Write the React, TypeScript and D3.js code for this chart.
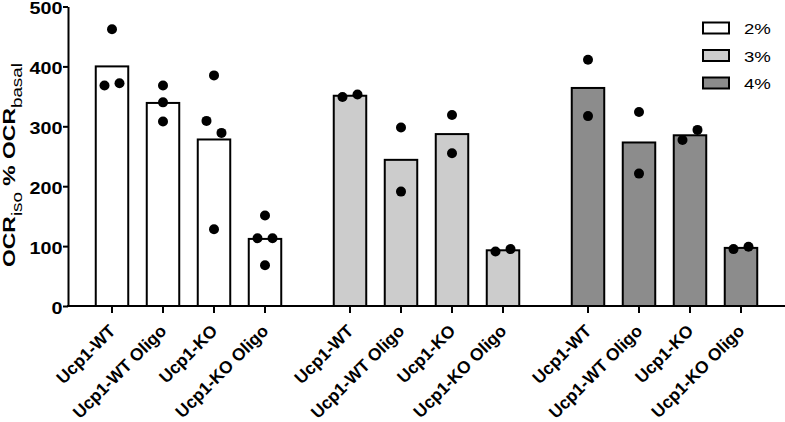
//this component renders the OCR iso / basal bar chart with replicate dots
import * as d3 from 'd3';
import React, { useEffect, useRef } from 'react';

//groups (O2 %) and the conditions inside each group
const groupLabels = ['2%', '3%', '4%'];
const conditions = ['Ucp1-WT', 'Ucp1-WT Oligo', 'Ucp1-KO', 'Ucp1-KO Oligo'];

//bar heights (means) per group
const means2 = [400, 339, 278, 112];
const means3 = [351, 244, 287, 93];
const means4 = [364, 273, 285, 97];

//replicate values per bar
const points2 = [[462, 368, 372], [368, 340, 308], [385, 309, 289, 128], [151, 113, 113, 68]];
const points3 = [[349, 353], [298, 191], [319, 255], [91, 95]];
const points4 = [[411, 317], [324, 221], [277, 294], [95, 99]];

const yTicks = [0, 100, 200, 300, 400, 500];

const fills = ['#ffffff', '#cccccc', '#8c8c8c'];
const font = "'Liberation Sans', Arial, Helvetica, sans-serif";

const App = () => {
  const svgRef = useRef<SVGSVGElement>(null);

  useEffect(() => {
    const width = 785;
    const height = 422;
    const stretch = 1.2;

    const allMeans = [means2, means3, means4];
    const allPoints = [points2, points3, points4];

    //flat table, one row per bar
    const rows = groupLabels.flatMap((group, gi) =>
      conditions.map((condition, ci) => ({
        group,
        gi,
        condition,
        mean: allMeans[gi][ci],
        points: allPoints[gi][ci]
      }))
    );

    const svg = d3.select(svgRef.current);
    svg.selectAll('*').remove();
    svg
      .attr('width', width)
      .attr('height', height)
      .attr('viewBox', `0 0 ${width} ${height}`)
      .style('font-family', font);

    //scales
    const y = d3.scaleLinear().domain([0, 500]).range([306, 6.5]);
    const x0 = d3
      .scaleBand()
      .domain(groupLabels)
      .range([86.5, 766.5])
      .paddingInner(34 / 238)
      .paddingOuter(0);
    const x1 = d3
      .scaleBand()
      .domain(conditions)
      .range([0, x0.bandwidth()])
      .paddingInner(0.363)
      .paddingOuter(0.1815);
    const cx = (d) => x0(d.group) + x1(d.condition) + x1.bandwidth() / 2;

    //bars
    svg
      .append('g')
      .selectAll('rect')
      .data(rows)
      .enter()
      .append('rect')
      .attr('x', (d) => x0(d.group) + x1(d.condition))
      .attr('y', (d) => y(d.mean))
      .attr('width', x1.bandwidth())
      .attr('height', (d) => y(0) - y(d.mean))
      .attr('fill', (d) => fills[d.gi])
      .attr('stroke', '#000')
      .attr('stroke-width', 2);

    //dots, spread sideways when they would overlap
    const spread = 15;
    const dots = rows.flatMap((d) =>
      d.points.map((v, i) => {
        const near = d.points
          .map((w, j) => ({ w, j }))
          .filter((p) => Math.abs(y(p.w) - y(v)) < 14);
        const k = near.length;
        const idx = near.findIndex((p) => p.j === i);
        return { x: cx(d) + (idx - (k - 1) / 2) * spread, v };
      })
    );
    svg
      .append('g')
      .selectAll('circle')
      .data(dots)
      .enter()
      .append('circle')
      .attr('cx', (d) => d.x)
      .attr('cy', (d) => y(d.v))
      .attr('r', 5)
      .attr('fill', '#000');

    //y axis
    const yAxis = svg
      .append('g')
      .attr('transform', 'translate(68,0)')
      .call(d3.axisLeft(y).tickValues(yTicks).tickSize(5).tickSizeOuter(0).tickPadding(0))
      .attr('font-family', font)
      .attr('font-size', 16.5);
    yAxis.select('.domain').attr('stroke', '#000').attr('stroke-width', 2);
    yAxis.selectAll('.tick line').attr('stroke', '#000').attr('stroke-width', 2);
    yAxis
      .selectAll('.tick text')
      .attr('fill', '#000')
      .attr('font-weight', 'bold')
      .attr('x', -5.5 / stretch)
      .attr('dy', '0.45em')
      .attr('transform', `scale(${stretch},1)`);

    //x axis line and ticks
    svg
      .append('line')
      .attr('x1', 67)
      .attr('x2', width)
      .attr('y1', y(0))
      .attr('y2', y(0))
      .attr('stroke', '#000')
      .attr('stroke-width', 2);
    svg
      .append('g')
      .selectAll('line')
      .data(rows)
      .enter()
      .append('line')
      .attr('x1', cx)
      .attr('x2', cx)
      .attr('y1', y(0))
      .attr('y2', y(0) + 7)
      .attr('stroke', '#000')
      .attr('stroke-width', 2);

    //rotated condition labels
    svg
      .append('g')
      .selectAll('text')
      .data(rows)
      .enter()
      .append('text')
      .attr('text-anchor', 'end')
      .attr('font-weight', 'bold')
      .attr('font-size', 17.3)
      .attr('transform', (d) => `translate(${cx(d) + 4.5},332) rotate(-45)`)
      .text((d) => d.condition);

    //y axis title, stretched along its length to the reference span
    const title = svg
      .append('text')
      .attr('text-anchor', 'middle')
      .attr('font-weight', 'bold')
      .attr('font-size', 17);
    title.append('tspan').text('OCR');
    title.append('tspan').attr('font-size', 14).attr('font-weight', 'normal').attr('dy', 7).text('iso');
    title.append('tspan').attr('dy', -7).text('\u00a0%\u00a0OCR');
    title.append('tspan').attr('font-size', 14).attr('font-weight', 'normal').attr('dy', 7).text('basal');
    title.attr('transform', 'translate(14.5,165) rotate(-90)');
    const span = (title.node() as SVGTextElement).getBoundingClientRect().height || 150;
    title.attr('transform', `translate(14.5,165) rotate(-90) scale(${204 / span},1)`);

    //legend
    const legend = svg
      .append('g')
      .selectAll('g')
      .data(groupLabels)
      .enter()
      .append('g')
      .attr('transform', (d, i) => `translate(0, ${i * 27.5})`);
    legend
      .append('rect')
      .attr('x', 703)
      .attr('y', 22.5)
      .attr('width', 26)
      .attr('height', 11)
      .attr('fill', (d, i) => fills[i])
      .attr('stroke', '#000')
      .attr('stroke-width', 2);
    legend
      .append('text')
      .attr('font-size', 15.5)
      .attr('transform', `translate(744,34.3) scale(${stretch},1)`)
      .text((d) => d);
  }, []);

  return <svg ref={svgRef} style={{ position: 'absolute', left: 0, top: 0 }}></svg>;
};

export default App;
